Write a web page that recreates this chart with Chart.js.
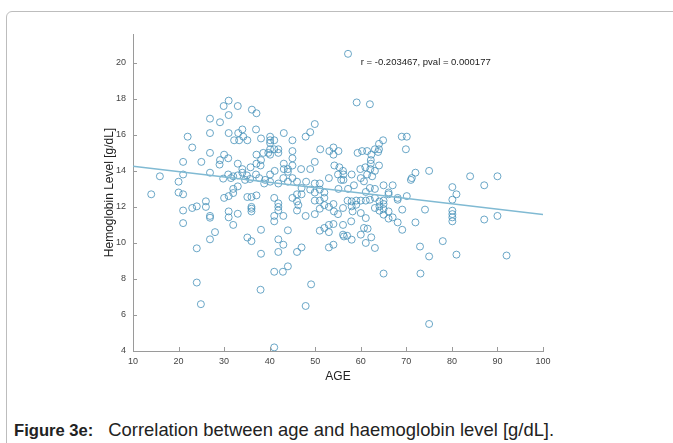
<!DOCTYPE html>
<html>
<head>
<meta charset="utf-8">
<script src="https://cdn.jsdelivr.net/npm/chart.js@4.4.1/dist/chart.umd.min.js"></script>
<style>
  body { margin: 0; background: #fff; width: 673px; height: 443px; overflow: hidden; position: relative; }
  #frame { position: absolute; left: 6px; top: 11px; width: 720px; height: 480px; border: 1px solid #bdbdbd; border-radius: 6px; }
  #chart { position: absolute; left: 0; top: 0; }
  #caption { position: absolute; left: 14px; top: 419px; font-family: "Liberation Sans", Arial, sans-serif; line-height: 22px; color: #222; white-space: nowrap; }
  #caption b { font-size: 16.6px; }
  #caption span { font-size: 18.4px; margin-left: 15px; }
</style>
</head>
<body>
<div id="frame"></div>
<canvas id="chart" width="673" height="400"></canvas>
<div id="caption"><b>Figure 3e:</b><span>Correlation between age and haemoglobin level [g/dL].</span></div>
<script>
// Alter (Jahre) und Hämoglobin (g/dL)
const ages = [
  14, 15.9, 20, 20, 21, 21, 21, 21, 21, 22,
  23, 25, 26.9, 26.9, 26.9, 26.9, 29.1, 29.9, 31, 31,
  33, 36.1, 37.1, 31, 33.1, 34, 34.2, 35.1, 32.2, 33.3,
  37, 38.1, 30, 29.1, 29, 30.9, 33, 34, 35.8, 37.1,
  38.1, 37.1, 38, 38.6, 30.9, 32, 34, 35, 37, 33,
  23, 24, 26, 26, 26.9, 26.9, 24, 28, 26.9, 30,
  31, 32, 32, 33, 31, 31, 33, 32, 35.1, 36,
  37.1, 36, 36, 36, 35.1, 36, 38.1, 38.1, 29.8, 31.5,
  34.6, 35.7, 37.7, 38.8,
  24, 24.9, 38, 41, 42.9, 44, 41, 49.1, 47.9,
  59.1, 62, 49.9, 47.9, 48.9, 43.1, 40.1, 40.1, 41, 40.1,
  45, 40.1, 41, 41.9, 41.9, 39.7, 40.1, 45, 45, 45,
  51.1, 53.1, 54, 54, 55.1, 59.3, 60.3, 61.4, 62.3, 49.9,
  43.1, 43.1, 44, 44, 46.9, 48.9, 41.1, 40.1, 54.2, 55.3,
  56.1, 56.2, 58, 59.9, 61, 62.1, 61.4, 62.5,
  57.2, 69, 70.1, 64.9, 64, 63.1, 64, 63.8, 69.9, 62.2,
  62.2, 64, 63.1, 72, 75, 71.2, 84, 87.1, 90,
  41, 41.9, 41.9, 41.9, 41, 41, 43, 44, 41.9, 43,
  41.9, 46, 47, 45, 46, 46.3, 47, 46, 47, 46,
  47.9, 49.9, 48.9, 49.9, 51, 52, 52, 51, 52, 49.9,
  51, 53, 54, 54.1, 55, 56.1, 57.1, 58, 58, 59,
  59, 60, 61.1, 58.2, 60, 61.1, 52, 53, 54, 56.1,
  57.9, 51, 53, 56.1, 56.3, 57, 58, 54, 53, 60,
  60.7, 61.5, 61.1, 60, 60.7, 61.1, 39, 40.1, 41.9, 43,
  44, 45, 46, 48, 49.9, 51, 53, 55, 55.7, 57.2,
  56.2, 55.1,
  62, 63.1, 65, 67, 66.1, 66.1, 68.1, 68.1, 70.1, 71,
  62, 63.1, 64.1, 65, 65, 64.1, 63.1, 64.1, 65, 66.1,
  65, 66.1, 67, 68.1, 69.1, 69.1, 72, 74.1, 62.3, 63.1,
  73, 75, 78, 81, 80.1, 81, 80.1, 80.1, 80.1, 80.1,
  80.1, 65, 73.1, 75, 87.1, 90, 92, 58.5
];
const hemoglobin = [
  12.7, 13.7, 13.4, 12.8, 12.7, 11.8, 11.1, 13.8, 14.5, 15.9,
  15.3, 14.5, 16.9, 16.1, 15.0, 13.9, 16.7, 17.6, 17.9, 17.1,
  17.6, 17.4, 17.2, 16.1, 16.1, 16.3, 15.9, 15.7, 15.7, 15.7,
  16.3, 15.8, 14.9, 14.6, 14.35, 14.7, 14.4, 14.1, 14.2, 14.9,
  14.6, 14.4, 14.3, 15.0, 13.8, 13.7, 13.9, 13.75, 13.8, 13.75,
  11.94, 12.03, 12.31, 12.0, 11.5, 11.4, 9.7, 10.6, 10.2, 12.5,
  12.6, 12.77, 13.0, 13.14, 11.75, 11.42, 11.62, 11.0, 12.55, 12.55,
  12.64, 12.0, 11.9, 11.75, 10.3, 10.1, 10.73, 9.4, 13.57, 13.6,
  13.5, 13.55, 13.6, 13.3,
  7.8, 6.6, 7.4, 8.4, 8.4, 8.7, 4.2, 7.7, 6.5,
  17.8, 17.7, 16.6, 15.9, 16.15, 16.1, 15.9, 15.7, 15.7, 15.55,
  15.7, 15.2, 15.2, 15.2, 15.0, 15.0, 14.9, 15.1, 14.7, 14.3,
  15.2, 15.1, 15.3, 14.9, 15.1, 15.0, 15.1, 15.1, 14.9, 14.5,
  14.4, 14.1, 14.1, 13.95, 14.1, 14.1, 14.0, 13.8, 14.3, 14.2,
  14.0, 13.8, 13.8, 14.1, 14.2, 14.1, 13.8, 13.7,
  20.5, 15.9, 15.9, 15.7, 15.5, 15.2, 15.2, 15.05, 15.2, 14.6,
  14.4, 14.3, 14.0, 13.9, 14.0, 13.6, 13.7, 13.2, 13.7,
  12.5, 12.2, 12.0, 11.8, 11.5, 11.2, 11.5, 10.7, 10.2, 9.9,
  9.5, 9.5, 9.75, 12.5, 12.3, 12.1, 12.7, 12.7, 13.05, 11.8,
  11.5, 11.6, 12.96, 12.8, 12.96, 12.8, 12.5, 12.35, 12.1, 12.35,
  11.9, 12.0, 12.16, 11.75, 11.6, 11.94, 12.35, 12.31, 12.03, 12.35,
  12.12, 12.35, 12.35, 11.75, 11.66, 11.38, 10.83, 11.0, 11.05, 11.0,
  11.2, 10.68, 10.6, 10.46, 10.36, 10.4, 10.18, 9.9, 9.75, 10.46,
  10.83, 10.79, 10.0, 13.6, 13.42, 12.83, 13.5, 13.4, 13.3, 13.6,
  13.4, 13.6, 13.4, 13.4, 13.3, 13.3, 13.6, 13.8, 13.5, 13.0,
  13.5, 13.0,
  13.05, 13.0, 13.2, 13.2, 12.8, 12.7, 12.5, 12.4, 12.6, 13.5,
  12.4, 12.5, 12.3, 12.35, 12.16, 12.03, 11.94, 11.79, 11.88, 11.75,
  11.57, 11.35, 11.42, 11.14, 10.73, 11.85, 11.14, 11.85, 10.31, 9.72,
  9.8, 9.25, 10.1, 9.35, 13.1, 12.7, 12.4, 11.79, 11.6, 11.42,
  11.2, 8.3, 8.3, 5.5, 11.3, 11.5, 9.3, 13.2
];

// Regressionsgerade
const fitAge = [10, 100];
const fitHgb = [14.26, 11.58];

const xTicks = [10, 20, 30, 40, 50, 60, 70, 80, 90, 100];
const yTicks = [4, 6, 8, 10, 12, 14, 16, 18, 20];
const statText = 'r = -0.203467, pval = 0.000177';

Chart.defaults.font.family = '"Liberation Sans", Arial, Helvetica, sans-serif';

const innerTicks = {
  id: 'innerTicks',
  afterDatasetsDraw(chart) {
    const c = chart.ctx;
    const x = chart.scales.x, y = chart.scales.y;
    const a = chart.chartArea;
    c.save();
    c.strokeStyle = '#9a9a9a';
    c.lineWidth = 1;
    c.beginPath();
    xTicks.forEach(v => {
      const px = Math.round(x.getPixelForValue(v)) + 0.5;
      c.moveTo(px, a.bottom);
      c.lineTo(px, a.bottom - 4);
    });
    yTicks.forEach(v => {
      const py = Math.round(y.getPixelForValue(v)) + 0.5;
      c.moveTo(a.left, py);
      c.lineTo(a.left + 4, py);
    });
    c.stroke();
    // Korrelationstext
    c.fillStyle = '#222';
    c.font = '9.5px "Liberation Sans", Arial, sans-serif';
    c.textBaseline = 'middle';
    c.textAlign = 'left';
    c.fillText(statText, x.getPixelForValue(60), y.getPixelForValue(20));
    c.restore();
  }
};

const ctx = document.getElementById('chart').getContext('2d');
new Chart(ctx, {
  type: 'scatter',
  data: {
    datasets: [
      {
        data: ages.map((a, i) => ({ x: a, y: hemoglobin[i] })),
        pointRadius: 3.5,
        pointStyle: 'circle',
        borderColor: 'rgba(70,145,185,0.8)',
        backgroundColor: 'rgba(0,0,0,0)',
        borderWidth: 1,
        order: 2
      },
      {
        type: 'line',
        data: fitAge.map((a, i) => ({ x: a, y: fitHgb[i] })),
        borderColor: '#80bad3',
        borderWidth: 1.4,
        pointRadius: 0,
        fill: false,
        order: 1
      }
    ]
  },
  options: {
    responsive: false,
    animation: false,
    layout: {
      padding: { left: 93, right: 130, top: 34, bottom: 14 }
    },
    plugins: {
      legend: { display: false },
      tooltip: { enabled: false }
    },
    scales: {
      x: {
        type: 'linear',
        min: 10,
        max: 100,
        afterBuildTicks: s => { s.ticks = xTicks.map(v => ({ value: v })); },
        afterFit: s => { s.height = 35; },
        grid: { drawOnChartArea: false, drawTicks: false },
        border: { color: '#9a9a9a' },
        ticks: { font: { size: 9 }, color: '#444', padding: 5, maxRotation: 0 },
        title: { display: true, text: 'AGE', font: { size: 12 }, color: '#222', padding: 2 }
      },
      y: {
        type: 'linear',
        min: 4,
        max: 21.6,
        afterBuildTicks: s => { s.ticks = yTicks.map(v => ({ value: v })); },
        afterFit: s => { s.width = 40; },
        grid: { drawOnChartArea: false, drawTicks: false },
        border: { color: '#9a9a9a' },
        ticks: { font: { size: 9 }, color: '#444', padding: 7 },
        title: { display: true, text: 'Hemoglobin Level [g/dL]', font: { size: 12 }, color: '#222', padding: 9 }
      }
    }
  },
  plugins: [innerTicks]
});
</script>
</body>
</html>
